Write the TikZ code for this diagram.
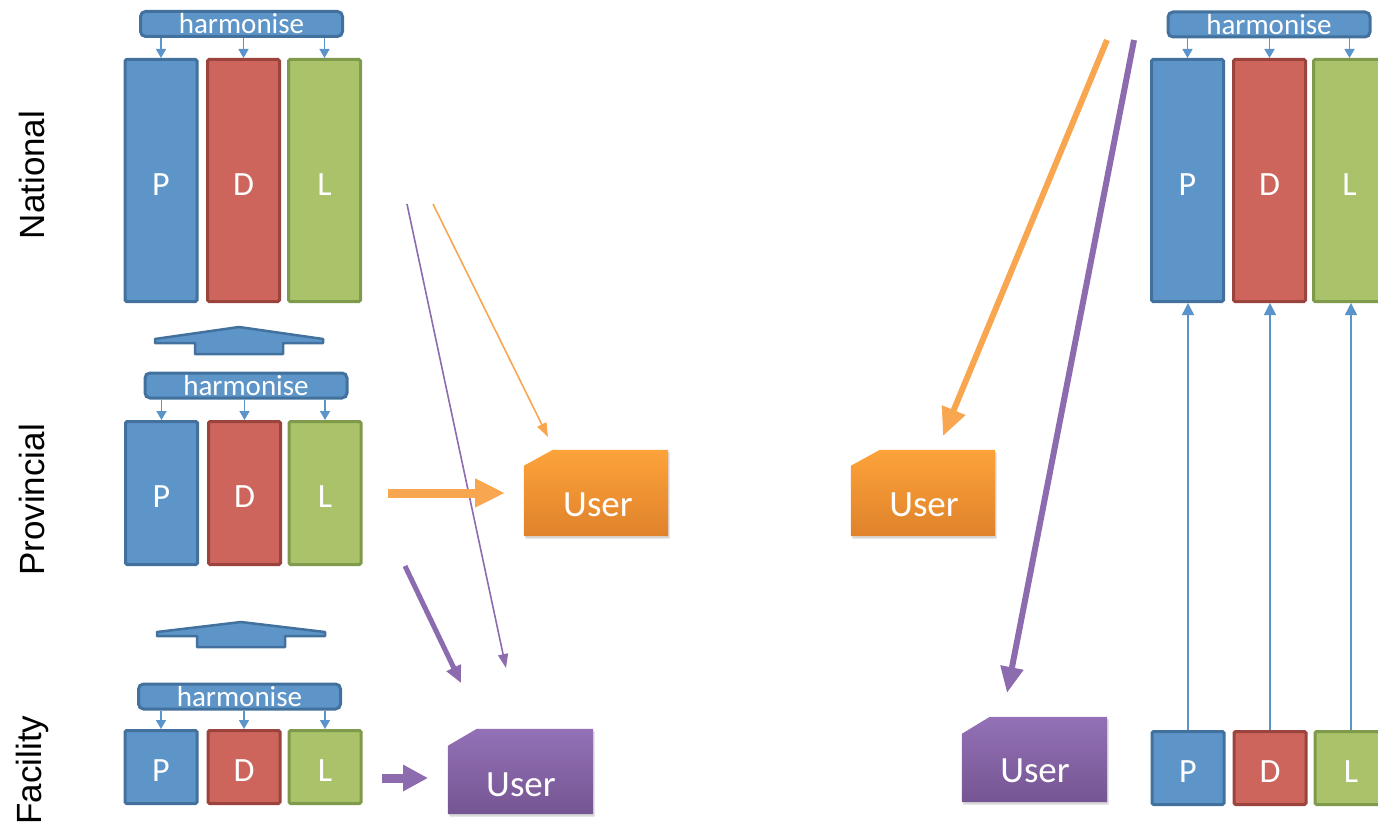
\documentclass[tikz,border=0pt]{standalone}
\usepackage{fontspec}
\setmainfont{Carlito}
\newfontfamily\sidefont{Liberation Sans}
\usetikzlibrary{arrows.meta,shadows}
\definecolor{bfill}{HTML}{5E95C9}
\definecolor{bline}{HTML}{41719C}
\definecolor{rfill}{HTML}{CD655C}
\definecolor{rline}{HTML}{9B433D}
\definecolor{gfill}{HTML}{AAC36A}
\definecolor{gline}{HTML}{7F9A4A}
\definecolor{barrow}{HTML}{5B93CB}
\definecolor{orng}{HTML}{F9A650}
\definecolor{orngtop}{HTML}{FDA33A}
\definecolor{orngbot}{HTML}{DF822B}
\definecolor{purp}{HTML}{8C6BAE}
\definecolor{purptop}{HTML}{9471B7}
\definecolor{purpbot}{HTML}{755592}
\begin{document}
\begin{tikzpicture}[x=1pt,y=-1pt,
  bar/.style={line width=3pt, rounded corners=1.5pt, minimum width=72pt, inner sep=0pt,
    text=white, font=\fontsize{34}{36}\selectfont, text height=29pt, text depth=0pt},
  pbar/.style={bar, fill=bfill, draw=bline},
  dbar/.style={bar, fill=rfill, draw=rline},
  lbar/.style={bar, fill=gfill, draw=gline},
  harm/.style={draw=bline, fill=bfill, line width=3pt, rounded corners=5pt,
    minimum width=202pt, minimum height=25pt, inner sep=0pt, text=white,
    font=\fontsize{29}{30}\selectfont},
  smallarr/.style={draw=barrow, line width=1.5pt, -{Triangle[width=10pt,length=9pt]}},
  uparr/.style={draw=barrow, line width=1.5pt, -{Triangle[width=12pt,length=12pt]}},
  upblock/.style={draw=bline, fill=bfill, line width=2.5pt, line join=round},
  side/.style={rotate=90, font=\sidefont\fontsize{35}{36}\selectfont},
  userbox/.style={minimum width=144pt, minimum height=86pt, inner sep=0pt},
  usertext/.style={text=white, font=\fontsize{37}{39}\selectfont},
  ushadow/.style={drop shadow={opacity=0.3, shadow xshift=1.5pt, shadow yshift=-2.5pt}},
  thinorng/.style={draw=orng, line width=1.6pt, -{Triangle[width=10pt,length=14pt]}},
  thinpurp/.style={draw=purp, line width=1.6pt, -{Triangle[width=10pt,length=14pt]}},
  thickorng/.style={draw=orng, line width=6pt, -{Triangle[width=24pt,length=28pt]}},
  thickpurp/.style={draw=purp, line width=6pt, -{Triangle[width=22pt,length=26pt]}},
  medpurp/.style={draw=purp, line width=5pt, -{Triangle[width=15pt,length=17pt]}},
  blockorng/.style={draw=orng, line width=9pt, -{Triangle[width=27pt,length=30pt]}},
  blockpurp/.style={draw=purp, line width=9pt, -{Triangle[width=25pt,length=25pt]}}
]
\useasboundingbox (0,0) rectangle (1378,824);

% side labels
\node[side] (lnat) at (32,175) {National};
\node[side] (lprov) at (32,500) {Provincial};
\node[side] (lfac) at (32,770) {Facility};

% National (left)
\node[harm] (hN) at (241.5,24) {harmonise};
\node[pbar, minimum height=242pt] (nP) at (161,180.5) {P};
\node[dbar, minimum height=242pt] (nD) at (243.5,180.5) {D};
\node[lbar, minimum height=242pt] (nL) at (324.5,180.5) {L};
\foreach \b in {nP,nD,nL} \draw[smallarr] (\b.north |- hN.south) -- (\b.north);

% Provincial
\node[harm] (hP) at (246,385.5) {harmonise};
\node[pbar, minimum height=143pt] (pP) at (161.5,493) {P};
\node[dbar, minimum height=143pt] (pD) at (244.5,493) {D};
\node[lbar, minimum height=143pt] (pL) at (325,493) {L};
\foreach \b in {pP,pD,pL} \draw[smallarr] (\b.north |- hP.south) -- (\b.north);

% Facility
\node[harm] (hF) at (239.5,696.5) {harmonise};
\node[pbar, minimum height=73pt] (fP) at (161,767) {P};
\node[dbar, minimum height=73pt] (fD) at (244,767) {D};
\node[lbar, minimum height=73pt] (fL) at (325,767) {L};
\foreach \b in {fP,fD,fL} \draw[smallarr] (\b.north |- hF.south) -- (\b.north);

% up block arrows
\draw[upblock] (155,339) -- (239,327) -- (323,339) -- (323,343) -- (283,343) -- (283,354)
  -- (195,354) -- (195,343) -- (155,343) -- cycle;
\draw[upblock] (157,632) -- (241,622) -- (325,632) -- (325,636) -- (285,636) -- (285,647)
  -- (197,647) -- (197,636) -- (157,636) -- cycle;

% Right top
\node[harm] (hR) at (1269,24.5) {harmonise};
\node[pbar, minimum height=242pt] (tP) at (1187.5,180.5) {P};
\node[dbar, minimum height=242pt] (tD) at (1269.5,180.5) {D};
\node[lbar, minimum height=242pt] (tL) at (1349.5,180.5) {L};
\foreach \b in {tP,tD,tL} \draw[smallarr] (\b.north |- hR.south) -- (\b.north);

% Right bottom
\node[pbar, minimum height=73pt] (bP) at (1188,768) {P};
\node[dbar, minimum height=73pt] (bD) at (1270,768) {D};
\node[lbar, minimum height=73pt] (bL) at (1351,768) {L};
\draw[uparr] (bP.north) -- (bP.north |- tP.south);
\draw[uparr] (bD.north) -- (bD.north |- tD.south);
\draw[uparr] (bL.north) -- (bL.north |- tL.south);

% User boxes
\node[userbox] (u1) at (596,493) {};
\path[ushadow, top color=orngtop, bottom color=orngbot]
  (u1.south west) -- (u1.south east) -- (u1.north east) -- ([xshift=29pt]u1.north west)
  -- ([yshift=-16pt]u1.north west) -- cycle;
\node[usertext] (u1t) at (598,505) {User};

\node[userbox] (u2) at (923,493) {};
\path[ushadow, top color=orngtop, bottom color=orngbot]
  (u2.south west) -- (u2.south east) -- (u2.north east) -- ([xshift=29pt]u2.north west)
  -- ([yshift=-16pt]u2.north west) -- cycle;
\node[usertext] (u2t) at (924,505) {User};

\node[userbox, minimum width=145pt, minimum height=85pt] (u3) at (520.5,771.5) {};
\path[ushadow, top color=purptop, bottom color=purpbot]
  (u3.south west) -- (u3.south east) -- (u3.north east) -- ([xshift=29pt]u3.north west)
  -- ([yshift=-17pt]u3.north west) -- cycle;
\node[usertext] (u3t) at (521,785) {User};

\node[userbox, minimum width=145pt, minimum height=85pt] (u4) at (1034.5,759.5) {};
\path[ushadow, top color=purptop, bottom color=purpbot]
  (u4.south west) -- (u4.south east) -- (u4.north east) -- ([xshift=28pt]u4.north west)
  -- ([yshift=-17pt]u4.north west) -- cycle;
\node[usertext] (u4t) at (1035,771) {User};

% connectors (left)
\coordinate (oa1) at (433,204); \coordinate (oa2) at (548,437);
\draw[thinorng] (oa1) -- (oa2);
\coordinate (pa1) at (407,204); \coordinate (pa2) at (506,668);
\draw[thinpurp] (pa1) -- (pa2);
\coordinate (ob1) at (388,493); \coordinate (ob2) at (505,493);
\draw[blockorng] (ob1) -- (ob2);
\coordinate (pb1) at (405,566); \coordinate (pb2) at (461,683);
\draw[medpurp] (pb1) -- (pb2);
\coordinate (pc1) at (382,778); \coordinate (pc2) at (428,778);
\draw[blockpurp] (pc1) -- (pc2);

% connectors (right)
\coordinate (ro1) at (1107,40); \coordinate (ro2) at (943,436);
\draw[thickorng] (ro1) -- (ro2);
\coordinate (rp1) at (1134,40); \coordinate (rp2) at (1007,693);
\draw[thickpurp] (rp1) -- (rp2);
\end{tikzpicture}
\end{document}
